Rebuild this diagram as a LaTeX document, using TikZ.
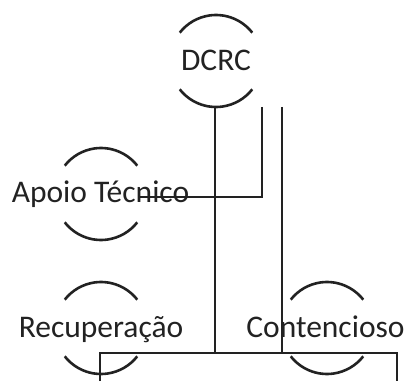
\documentclass[tikz,border=0pt]{standalone}
\usepackage{fontspec}
\setmainfont{Carlito}
\usetikzlibrary{calc}
\definecolor{ink}{HTML}{222222}
\tikzset{
  lbl/.style={font=\fontsize{31.5}{35}\selectfont, text=ink, inner sep=0pt, anchor=base},
  arcline/.style={draw=ink, line width=2.6pt},
  conn/.style={draw=ink, line width=1.8pt},
}
\newcommand\arcpair[1]{%
  \draw[arcline] ($(#1)+(38:46)$) arc[start angle=38,end angle=142,radius=46];
  \draw[arcline] ($(#1)+(218:46)$) arc[start angle=218,end angle=322,radius=46];
}
\begin{document}
\begin{tikzpicture}[x=1pt,y=1pt]
\useasboundingbox (0,0) rectangle (407,381);
% circle centres
\coordinate (cD) at (216,320);
\coordinate (cA) at (101,187);
\coordinate (cR) at (101,53);
\coordinate (cC) at (327,53);
\arcpair{cD}
\arcpair{cA}
\arcpair{cR}
\arcpair{cC}
% labels
\node[lbl] (dcrc) at (216,310) {DCRC};
\node[lbl] (apoio) at (100.5,179) {Apoio Técnico};
\node[lbl] (recup) at (101,44) {Recuperação};
\node[lbl] (cont) at (325.5,44) {Contencioso};
% connector points
\coordinate (t1) at (215,274);
\coordinate (t2) at (262,274);
\coordinate (t3) at (282,274);
\coordinate (b1) at (215,28);
\coordinate (k2) at (262,184);
\coordinate (a2) at (140,184);
\coordinate (b3) at (282,28);
\coordinate (hl) at (100,28);
\coordinate (hr) at (397,28);
\coordinate (dl) at (100,0);
\coordinate (dr) at (397,0);
\draw[conn] (t1) -- (b1);
\draw[conn] (t2) -- (k2) -- (a2);
\draw[conn] (t3) -- (b3);
\draw[conn] (dl) -- (hl) -- (hr) -- (dr);
\end{tikzpicture}
\end{document}
